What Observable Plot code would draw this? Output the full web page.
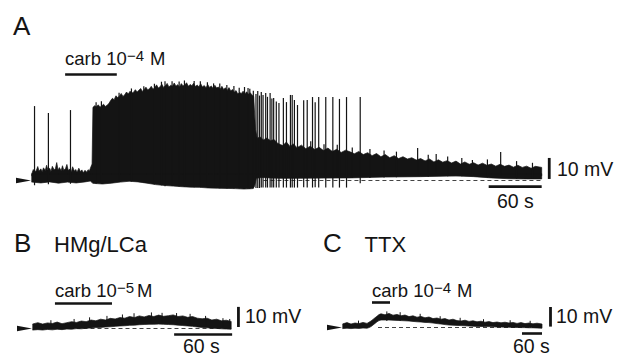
<!DOCTYPE html>
<html><head><meta charset="utf-8">
<script src="https://cdn.jsdelivr.net/npm/d3@7"></script>
<script src="https://cdn.jsdelivr.net/npm/@observablehq/plot@0.6"></script>
<style>
html,body{margin:0;padding:0;background:#fff;}
#wrap{position:relative;width:626px;height:356px;overflow:hidden;background:#fff;}
#wrap > svg{position:absolute;margin:0;}
</style></head><body><div id="wrap"></div>
<script>
// ---------- Panel A: carbachol 1e-4 M (time s, membrane potential mV relative to rest) ----------
// upper edge of the recorded trace
const aTop = [
[0,3.2],[1.5,5.0],[3,3.8],[5,4.6],[6.5,6.4],[8,4.2],[10,5.3],[11.5,3.9],[13,5.8],[15,4.5],[16.5,7.0],[18,4.8],[20,5.6],[21.5,4.1],[23,6.5],[25,4.9],[26.5,5.4],[28,8.3],[29.5,4.6],[31,5.9],[33,4.4],[34.5,6.8],[36,4.7],[38,5.5],[39.5,7.4],[41,4.6],[43,5.2],[44.5,3.9],[46,6.3],[48,4.2],[49.5,5.0],[51,3.7],[53,5.6],[55,3.9],[56.5,4.8],[58,3.4],[60,4.6],[62,3.7],[63.5,4.9],[65,4.3],[66.5,6.1],[68,7.6],
[69,34.6],[71,35.4],[73,34.9],[75,35.8],[77,34.7],[79,35.3],[81,36.1],[83,35.0],[85,35.6],[87,36.4],[89,37.8],[91,38.9],[93,38.2],[95,40.1],[97,39.3],[99,39.9],[101,41.2],[103,39.8],[105,40.6],[107,41.9],[109,40.9],[111,42.3],[113,41.4],[115,41.8],[117,43.0],[119,41.9],[121,42.7],[123,43.6],[125,42.2],[127,43.1],[129,44.2],[131,42.9],[133,43.5],[135,44.6],[137,43.2],[139,44.0],[141,45.3],[143,43.8],[145,44.4],[147,45.6],[149,44.1],[151,44.9],[153,46.0],[155,44.3],[157,45.1],[159,44.6],[161,46.2],[163,44.7],[165,45.4],[167,44.2],[169,45.9],[171,44.8],[173,45.3],[175,46.3],[177,44.6],[179,45.5],[181,44.9],[183,46.1],[185,44.5],[187,45.2],[189,44.4],[191,45.8],[193,44.3],[195,45.0],[197,43.9],[199,45.4],[201,44.1],[203,44.8],[205,43.6],[207,45.1],[209,43.8],[211,44.3],[213,43.2],[215,44.6],[217,43.1],[219,43.9],[221,42.6],[223,44.0],[225,42.4],[227,43.1],[229,41.8],[231,42.6],[233,40.9],[235,41.7],[237,41.2],[239,42.3],[241,41.0],[243,42.0],[245,40.8],[247,41.6],[249,40.5],[251,39.8],
[253,24.0],[255,19.8],[258,20.6],[262,19.1],[266,20.0],[270,18.7],[274,19.3],[278,17.5],[281,16.9],
[284,16.4],[288,18.1],[292,16.0],[296,17.2],[300,15.4],[305,16.6],[310,14.9],[315,16.1],[320,14.5],[325,15.6],[330,14.0],[335,15.2],[340,13.6],[345,14.6],[350,13.1],[355,14.2],[360,13.4],[365,12.5],[370,13.6],[375,12.1],[380,13.0],[385,11.6],[390,12.6],[395,11.1],[400,12.1],[405,10.6],[410,11.6],[415,10.2],[420,11.1],[425,10.0],[430,10.6],[435,9.5],[440,10.2],[445,9.1],[450,10.0],[455,8.6],[460,9.6],[465,8.5],[470,9.2],[475,8.1],[480,9.0],[485,7.6],[490,8.6],[495,7.5],[500,8.2],[505,7.1],[510,8.0],[515,7.0],[520,7.6],[525,6.6],[530,7.5],[535,6.5],[540,7.1],[545,6.1],[550,7.0],[555,6.0],[560,6.6],[565,5.6],[570,6.5],[577,6.0]
];
// lower edge of the recorded trace
const aBottom = [
[0,-1.0],[10,-1.4],[20,-0.9],[30,-1.5],[40,-1.0],[50,-1.4],[60,-0.9],[66,-0.5],[69,-1.6],[80,-1.9],[90,-1.5],[100,-1.0],[110,-0.6],[120,-0.9],[130,-1.5],[140,-2.2],[150,-2.6],[160,-2.9],[170,-3.2],[180,-3.4],[190,-3.5],[200,-3.8],[210,-3.9],[220,-4.0],[230,-4.1],[240,-4.3],[250,-4.1],[252,-3.0],[254,0.8],[260,1.2],[270,1.0],[280,0.8],[300,0.8],[330,0.9],[360,1.0],[400,1.4],[440,1.6],[480,2.0],[500,1.6],[520,1.0],[540,0.6],[560,0.5],[577,0.5]
];
// action potentials and small events: [time, trough, peak]
const aSpikes = [
[2.3,-2.5,35.2],[18,-2.0,31.9],[43,-1.8,33.3],
[72,-1.8,37.0],[78,-1.9,37.5],[98,-1.0,41.5],[112,-0.7,43.6],[126,-1.2,44.6],[138,-2,45.8],[146,-2.5,46.8],[150,-3,47.0],[158,-2.9,47.0],[166,-3.1,46.9],[172,-3.2,47.4],[183,-3.5,47.2],[190,-3.5,47.0],[198,-3.7,46.6],[205,-3.8,46.0],[212,-3.9,45.9],[220,-4,45.2],[228,-4,44.8],[234,-4.1,43.9],[240,-4.3,44.3],[244,-4.3,43.8],[246,-4.3,43.5],[250,-4.1,42.5],
[253,-3.8,41.0],[255,-3.8,42.4],[257,-3.8,40.2],[259,-3.6,41.9],[261,-3.6,40.5],[264,-3.6,41.4],[266,-3.6,39.6],[269,-3.6,41.4],[271,-3.6,38.8],[273,-3.6,39.0],[276,-3.6,37.4],[279,-3.6,36.7],[284,-3.6,39.0],[287.5,-3.6,37.1],[292,-3.6,40.5],[294,-3.6,40.5],[296.5,-3.6,38.1],[300,-3.6,35.7],[307,-3.4,38.0],[311,-3.6,38.1],[317,-3.6,39.5],[320,-3.4,37.0],[324,-3.6,39.5],[332,-3.6,39.5],[340,-3.6,39.5],[347.5,-3.6,38.6],[355.5,-3.6,39.5],[371,-1.5,39.5],
[315,1,18.5],[330,1,17.0],[345,1,16.8],[362,1,15.5],[382,1,14.8],[398,1.2,14.0],[412,1.3,13.5],[448,1.6,12.0],[470,1.8,11.2],[486,1.8,10.5],[515,1.2,9.8],[548,0.6,9.0],[566,0.5,8.2],
[436,2,15.2],[457,2,12.4],[498,2,9.5],[530,1.5,13.3]
];
const carbA = [37.5, 96];          // application (s)
const dashA = [262, 577];          // resting level reference (s)
const barA = {t: 585, v: [0.5, 10.5], s: [517, 577], sv: -2.9};   // 10 mV / 60 s
const levelA = {carb: 50.5};

// ---------- Panel B: HMg/LCa, carb 1e-5 M : [time, top, bottom] ----------
const bTrace = [
[0,2.0,-1.0],[5,2.6,-0.8],[10,1.9,-1.0],[15,2.5,-0.7],[20,2.2,-0.9],[25,2.9,-0.6],[30,2.1,-0.8],[35,2.6,-0.5],[40,3.1,-0.6],[45,2.7,-0.3],[50,3.4,-0.4],[55,3.1,-0.1],[60,3.9,0.0],[65,3.5,0.2],[70,4.3,0.3],[75,3.9,0.5],[80,4.7,0.6],[85,4.4,0.8],[90,5.1,1.0],[95,4.8,1.1],[100,5.6,1.3],[105,5.1,1.4],[110,5.9,1.6],[115,5.4,1.7],[120,6.1,1.8],[125,5.6,1.8],[130,6.3,1.9],[135,5.7,1.8],[140,6.0,1.7],[145,6.4,1.6],[150,5.6,1.4],[155,5.9,1.2],[160,5.2,1.0],[165,5.6,0.8],[170,4.8,0.5],[175,4.5,0.3],[180,4.8,0.1],[185,3.9,-0.1],[190,4.3,-0.2],[195,3.5,-0.4],[200,3.8,-0.5],[205,3.2,-0.6]
];
const bSpikes = [[18,1,3.8],[42,1,4.4],[58,1.5,5.2],[76,2,5.9],[92,2,6.6],[104,2,7.2],[122,2.5,7.6],[133,2.5,7.4],[148,2,7.3],[162,2,6.9],[178,1.5,5.9],[196,0.5,4.8],[203,0.5,4.4]];
const carbB = [22.7, 81.7];
const dashB = [45, 205];
const barB = {t: 212, v: [0.5, 10.3], s: [146, 206], sv: -2.9};
const levelB = {carb: 12.2};

// ---------- Panel C: TTX, carb 1e-4 M : [time, top, bottom] ----------
const cTrace = [
[0,1.6,-0.8],[12,2.2,-0.6],[24,1.5,-0.8],[36,2.0,-0.6],[48,1.7,-0.7],[60,2.3,-0.5],[72,1.8,-0.6],[78,2.4,-0.3],[84,3.0,0.2],[90,3.8,1.0],[96,4.6,1.8],[102,5.4,2.6],[108,6.2,3.2],[114,6.6,3.5],[126,6.1,3.5],[138,6.8,3.5],[150,5.9,3.4],[162,6.3,3.3],[174,5.6,3.2],[186,6.0,3.1],[198,5.2,3.0],[210,5.6,2.8],[222,4.9,2.6],[234,5.3,2.5],[246,4.6,2.3],[258,5.0,2.2],[270,4.2,2.0],[282,4.5,1.7],[294,3.9,1.5],[306,4.2,1.2],[318,3.5,1.0],[330,3.9,0.9],[342,3.2,0.8],[354,3.0,0.7],[366,3.4,0.6],[378,2.8,0.5],[390,3.1,0.4],[402,2.6,0.3],[414,2.9,0.3],[426,2.4,0.2],[438,2.7,0.2],[450,2.2,0.1],[462,2.5,0.0],[474,2.1,0.0],[486,2.4,-0.1],[498,2.0,-0.1],[510,2.3,-0.2],[522,1.8,-0.2],[534,2.2,-0.3],[546,1.7,-0.3],[558,2.0,-0.4],[570,1.6,-0.4],[582,1.9,-0.5],[597,1.5,-0.6]
];
const cSpikes = [[45,0,3.2],[130,3,7.8],[170,3,7.4],[230,2.5,6.6],[290,1.5,5.4],[350,1,4.6],[420,0.3,3.9],[500,0,3.4],[560,-0.3,3.1]];
const carbC = [87, 141];
const dashC = [105, 597];
const barC = {t: 621, v: [0.2, 10], s: [537, 597], sv: -3};
const levelC = {carb: 12.5};

// ---------- drawing ----------
const INK = "#141414";
const arrowHead = {draw(ctx) { ctx.moveTo(-1.5, 0); ctx.lineTo(-16.5, -2.8); ctx.lineTo(-16.5, 2.8); ctx.closePath(); }};
const baseStyle = {background: "transparent", overflow: "visible"};

function common(trace0, carb, carbLevel, dash, bar) {
  return [
    Plot.ruleY([0], {x1: dash[0], x2: dash[1], stroke: "#444", strokeWidth: 1, strokeDasharray: "4,3"}),
    Plot.dot([trace0], {x: d => d[0], y: 0, symbol: arrowHead, fill: INK, stroke: "none"}),
    Plot.ruleY([carbLevel], {x1: carb[0], x2: carb[1], stroke: INK, strokeWidth: 2.6}),
    Plot.ruleX([bar.t], {y1: bar.v[0], y2: bar.v[1], stroke: INK, strokeWidth: 2.8}),
    Plot.ruleY([bar.sv], {x1: bar.s[0], x2: bar.s[1], stroke: INK, strokeWidth: 2.6})
  ];
}
const spikeRule = (data, w) => Plot.ruleX(data, {x: d => d[0], y1: d => d[1], y2: d => d[2], stroke: INK, strokeWidth: w});

const wrap = document.getElementById("wrap");

const plotA = Plot.plot({
  width: 626, height: 225, margin: 0,
  x: {domain: [0, 600], range: [32, 562], axis: null},
  y: {domain: [-20, 80], range: [222, 12], axis: null},
  style: baseStyle,
  marks: [
    ...common(aTop[0], carbA, levelA.carb, dashA, barA),
    Plot.areaY(aTop, {x: d => d[0], y1: () => 2, y2: d => d[1], fill: INK, stroke: INK, strokeWidth: 0.7}),
    Plot.areaY(aBottom, {x: d => d[0], y1: d => d[1], y2: () => 3, fill: INK, stroke: INK, strokeWidth: 0.7}),
    spikeRule(aSpikes, 1.2)
  ]
});
plotA.style.left = "0px"; plotA.style.top = "0px";
wrap.appendChild(plotA);

const plotB = Plot.plot({
  width: 313, height: 136, margin: 0,
  x: {domain: [0, 240], range: [33, 265], axis: null},
  y: {domain: [-20, 40], range: [149, 26], axis: null},
  style: baseStyle,
  marks: [
    ...common(bTrace[0], carbB, levelB.carb, dashB, barB),
    Plot.areaY(bTrace, {x: d => d[0], y1: d => d[2], y2: d => d[1], fill: INK, stroke: INK, strokeWidth: 0.7}),
    spikeRule(bSpikes, 1)
  ]
});
plotB.style.left = "0px"; plotB.style.top = "220px";
wrap.appendChild(plotB);

const plotC = Plot.plot({
  width: 313, height: 136, margin: 0,
  x: {domain: [0, 600], range: [30, 230], axis: null},
  y: {domain: [-20, 40], range: [147, 27], axis: null},
  style: baseStyle,
  marks: [
    ...common(cTrace[0], carbC, levelC.carb, dashC, barC),
    Plot.areaY(cTrace, {x: d => d[0], y1: d => d[2], y2: d => d[1], fill: INK, stroke: INK, strokeWidth: 0.7}),
    spikeRule(cSpikes, 1)
  ]
});
plotC.style.left = "313px"; plotC.style.top = "220px";
wrap.appendChild(plotC);

// ---------- text labels ----------
const svg = d3.select(wrap).append("svg")
  .attr("width", 626).attr("height", 356)
  .style("left", "0px").style("top", "0px")
  .attr("font-family", "'Liberation Sans', Arial, Helvetica, sans-serif")
  .attr("fill", INK);

function label(x, y, size, txt) {
  svg.append("text").attr("x", x).attr("y", y).attr("font-size", size).text(txt);
}
function carbLabel(x, y, exp, xM) {
  const t = svg.append("text").attr("y", y).attr("font-size", 18.5);
  t.append("tspan").attr("x", x).text("carb 10");
  t.append("tspan").attr("x", x + 62).attr("y", y - 4.5).attr("font-size", 15).text("\u2212" + exp);
  t.append("tspan").attr("x", xM).attr("y", y).text("M");
}

label(13, 35, 26, "A");
carbLabel(65, 65, "4", 150);
label(557, 176, 19.5, "10 mV");
label(497, 208, 19.5, "60 s");

label(14, 252, 26, "B");
label(54, 252, 22, "HMg/LCa");
carbLabel(55, 297, "5", 137);
label(245, 323, 19.5, "10 mV");
label(183, 353, 19.5, "60 s");

label(323, 252, 26, "C");
label(364.5, 252, 22, "TTX");
carbLabel(372, 297, "4", 457);
label(556, 323, 19.5, "10 mV");
label(513, 353, 19.5, "60 s");
</script></body></html>
